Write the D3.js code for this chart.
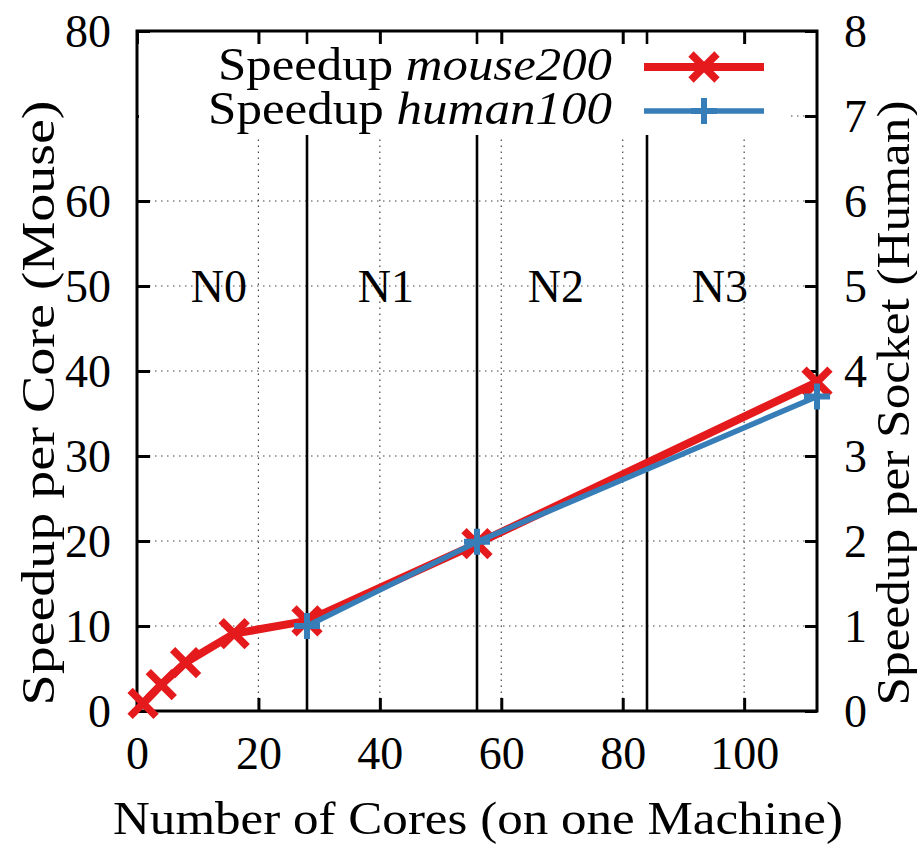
<!DOCTYPE html>
<html>
<head>
<meta charset="utf-8">
<script src="https://cdn.jsdelivr.net/npm/d3@7"></script>
<style>
  html, body { margin: 0; padding: 0; background: #fff; }
  svg text { font-family: "Liberation Serif", "DejaVu Serif", serif; fill: #000; }
</style>
</head>
<body>
<svg id="chart" width="917" height="844"></svg>
<script>
// Core counts and measured speedups
const mouseCores = [1, 4, 8, 16, 28, 56, 112];
const mouseSpeedup = [0.9, 3.1, 5.7, 9.1, 10.6, 19.7, 38.7];
const humanSockets = [28, 56, 112];
const humanSpeedup = [1.0, 1.99, 3.7];

// Axis ticks
const xTicks = [0, 20, 40, 60, 80, 100];
const yTicks = [0, 10, 20, 30, 40, 50, 60, 70, 80];
const yTickLabels = [0, 10, 20, 30, 40, 50, 60, 80];
const y2Ticks = [0, 1, 2, 3, 4, 5, 6, 7, 8];

// NUMA node boundaries and region names
const nodeBounds = [28, 56, 84];
const nodeNames = ["N0", "N1", "N2", "N3"];
const nodeLabelX = [13.5, 41, 69, 96];
const nodeLabelY = 50;

const RED = "#e41a1c", BLUE = "#377eb8";

const W = 917, H = 844;
const m = { left: 137, right: 100, top: 31, bottom: 133 };
const pw = W - m.left - m.right, ph = H - m.top - m.bottom;

const svg = d3.select("#chart");
const x = d3.scaleLinear().domain([0, 112]).range([m.left, m.left + pw]);
const y = d3.scaleLinear().domain([0, 80]).range([m.top + ph, m.top]);
const y2 = d3.scaleLinear().domain([0, 8]).range([m.top + ph, m.top]);

const FS = 46;

// dotted grid
const grid = svg.append("g").attr("stroke", "#444").attr("stroke-width", 1.2)
  .attr("stroke-dasharray", "1.5,4.5");
grid.selectAll("line.gx").data(xTicks.filter(d => d > 0)).join("line")
  .attr("x1", d => x(d)).attr("x2", d => x(d)).attr("y1", y(0)).attr("y2", y(80));
grid.selectAll("line.gy").data(yTicks.filter(d => d > 0 && d < 80)).join("line")
  .attr("class", "gy")
  .attr("x1", x(0)).attr("x2", x(112)).attr("y1", d => y(d)).attr("y2", d => y(d));

// node boundaries
svg.append("g").selectAll("line").data(nodeBounds).join("line")
  .attr("x1", d => x(d)).attr("x2", d => x(d)).attr("y1", y(0)).attr("y2", y(80))
  .attr("stroke", "#000").attr("stroke-width", 2.6);

// node labels
svg.append("g").selectAll("text").data(nodeNames).join("text")
  .attr("x", (d, i) => x(nodeLabelX[i])).attr("y", y(nodeLabelY))
  .attr("text-anchor", "middle").attr("dominant-baseline", "central")
  .attr("font-size", FS).text(d => d);

// axes with inward ticks
const axB = svg.append("g").attr("transform", `translate(0,${y(0)})`)
  .call(d3.axisBottom(x).tickValues(xTicks).tickSize(-13).tickPadding(0).tickFormat(d3.format("d")));
axB.selectAll("text").attr("y", 42).attr("dy", null).attr("dominant-baseline", "central");
const axT = svg.append("g").attr("transform", `translate(0,${y(80)})`)
  .call(d3.axisTop(x).tickValues(xTicks).tickSize(-13).tickFormat(""));
const axL = svg.append("g").attr("transform", `translate(${x(0)},0)`)
  .call(d3.axisLeft(y).tickValues(yTicks).tickSize(-13).tickPadding(0)
    .tickFormat(d => yTickLabels.includes(d) ? d : ""));
axL.selectAll("text").attr("x", -26).attr("dy", null).attr("dominant-baseline", "central");
const axR = svg.append("g").attr("transform", `translate(${x(112)},0)`)
  .call(d3.axisRight(y2).tickValues(y2Ticks).tickSize(-12).tickPadding(0));
axR.selectAll("text").attr("x", 27).attr("dy", null).attr("dominant-baseline", "central");

[axB, axT, axL, axR].forEach(a => {
  a.select(".domain").remove();
  a.selectAll(".tick line").attr("stroke", "#000").attr("stroke-width", 3);
  a.selectAll("text").attr("font-size", FS).attr("font-family", "Liberation Serif").attr("fill", "#000");
});

// plot border
svg.append("rect").attr("x", x(0)).attr("y", y(80)).attr("width", pw).attr("height", ph)
  .attr("fill", "none").attr("stroke", "#000").attr("stroke-width", 3);

// opaque key box
const key = svg.append("g");
key.append("rect").attr("x", x(0) + 2).attr("y", 44).attr("width", 790 - x(0) - 2).attr("height", 91)
  .attr("fill", "#fff");

// marker shapes
function cross(sel, s) {
  sel.append("path").attr("d", `M${-s},${-s}L${s},${s}M${-s},${s}L${s},${-s}`);
}
function plus(sel, s) {
  sel.append("path").attr("d", `M${-s},0L${s},0M0,${-s}L0,${s}`);
}

const keyRows = [
  { name: "mouse200", color: RED, width: 8, marker: "x", cy: 67, len: 394 },
  { name: "human100", color: BLUE, width: 5.5, marker: "+", cy: 111, len: 404 }
];
keyRows.forEach(r => {
  const t = key.append("text").attr("x", 612).attr("y", r.cy - 3)
    .attr("text-anchor", "end").attr("dominant-baseline", "central").attr("font-size", FS)
    .attr("textLength", r.len).attr("lengthAdjust", "spacingAndGlyphs");
  t.append("tspan").text("Speedup ");
  t.append("tspan").attr("font-style", "italic").text(r.name);
  key.append("line").attr("x1", 644).attr("x2", 764).attr("y1", r.cy).attr("y2", r.cy)
    .attr("stroke", r.color).attr("stroke-width", r.width);
  const g = key.append("g").attr("transform", `translate(704,${r.cy})`)
    .attr("stroke", r.color).attr("fill", "none");
  if (r.marker === "x") cross(g.attr("stroke-width", 7.5), 13);
  else plus(g.attr("stroke-width", 6), 13);
});

// series lines and markers
const mouse = mouseCores.map((c, i) => [c, mouseSpeedup[i]]);
const human = humanSockets.map((c, i) => [c, humanSpeedup[i]]);

svg.append("path").datum(mouse)
  .attr("d", d3.line().x(d => x(d[0])).y(d => y(d[1])))
  .attr("fill", "none").attr("stroke", RED).attr("stroke-width", 8).attr("stroke-linejoin", "round");
svg.append("g").attr("stroke", RED).attr("stroke-width", 7.5).attr("fill", "none")
  .selectAll("g").data(mouse).join("g")
  .attr("transform", d => `translate(${x(d[0])},${y(d[1])})`)
  .each(function () { cross(d3.select(this), 13); });

svg.append("path").datum(human)
  .attr("d", d3.line().x(d => x(d[0])).y(d => y2(d[1])))
  .attr("fill", "none").attr("stroke", BLUE).attr("stroke-width", 5.5).attr("stroke-linejoin", "round");
svg.append("g").attr("stroke", BLUE).attr("stroke-width", 6).attr("fill", "none")
  .selectAll("g").data(human).join("g")
  .attr("transform", d => `translate(${x(d[0])},${y2(d[1])})`)
  .each(function () { plus(d3.select(this), 13); });

// axis titles
svg.append("text").attr("x", 478).attr("y", 818)
  .attr("text-anchor", "middle").attr("dominant-baseline", "central")
  .attr("font-size", FS).attr("textLength", 730).attr("lengthAdjust", "spacingAndGlyphs")
  .text("Number of Cores (on one Machine)");
svg.append("text").attr("transform", `translate(38,403) rotate(-90)`)
  .attr("text-anchor", "middle").attr("dominant-baseline", "central")
  .attr("font-size", FS).attr("textLength", 605).attr("lengthAdjust", "spacingAndGlyphs")
  .text("Speedup per Core (Mouse)");
svg.append("text").attr("transform", `translate(893,403) rotate(-90)`)
  .attr("text-anchor", "middle").attr("dominant-baseline", "central")
  .attr("font-size", FS).attr("textLength", 605).attr("lengthAdjust", "spacingAndGlyphs")
  .text("Speedup per Socket (Human)");
</script>
</body>
</html>
